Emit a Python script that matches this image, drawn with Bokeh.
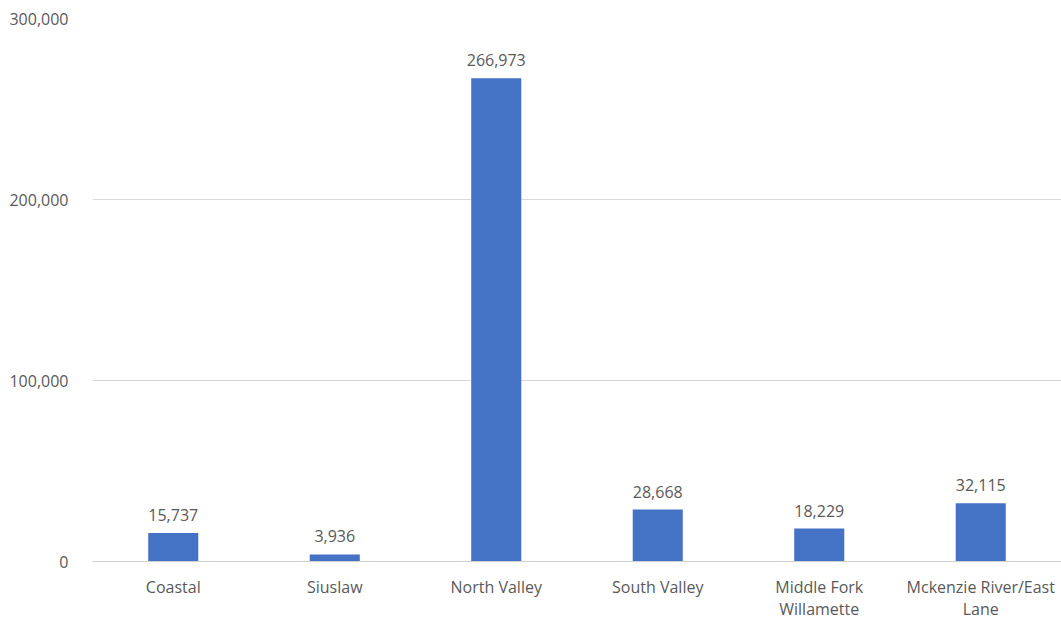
from bokeh.plotting import figure
from bokeh.models import (ColumnDataSource, NumeralTickFormatter, FixedTicker, Range1d, LabelSet,
                          LinearAxis)
from bokeh.core.properties import value
from bokeh.embed import file_html
from bokeh.resources import INLINE

categories = ["Coastal", "Siuslaw", "North Valley", "South Valley", "Middle Fork Willamette", "Mckenzie River/East Lane"]
label_line1 = ["Coastal", "Siuslaw", "North Valley", "South Valley", "Middle Fork", "Mckenzie River/East"]
label_line2 = ["", "", "", "", "Willamette", "Lane"]
values = [15737, 3936, 266973, 28668, 18229, 32115]
y_ticks = [0, 100000, 200000, 300000]

FONT = "Open Sans"
GRAY = "#595959"
FS = "16px"

xpos = list(range(len(categories)))
src = ColumnDataSource(dict(x=xpos, cat=categories, val=values, lab=[f"{v:,}" for v in values]))

p = figure(x_range=Range1d(-0.5, len(categories) - 0.5), y_range=Range1d(0, 300000),
           frame_width=969, frame_height=543,
           output_backend="svg", toolbar_location=None,
           min_border_left=92, min_border_right=0, min_border_top=18, min_border_bottom=0)
p.outline_line_color = None

p.vbar(x="x", top="val", width=0.31, source=src, color="#4472C4", line_color=None)

vals = LabelSet(x="x", y="val", text="lab", source=src, text_align="center", text_baseline="bottom",
                y_offset=12, text_font=value(FONT), text_font_size=value(FS), text_color=GRAY)
p.add_layout(vals)

p.xgrid.grid_line_color = None
p.ygrid.grid_line_color = "#d9d9d9"
p.ygrid.grid_line_width = 1

p.yaxis.ticker = FixedTicker(ticks=y_ticks)
p.yaxis.formatter = NumeralTickFormatter(format="0,0")
p.yaxis.axis_line_color = None
p.yaxis.major_tick_line_color = None
p.yaxis.minor_tick_line_color = None
p.yaxis.major_label_standoff = 18
p.yaxis.major_label_text_font = FONT
p.yaxis.major_label_text_font_size = FS
p.yaxis.major_label_text_color = GRAY

xa = p.xaxis[0]
xa.ticker = FixedTicker(ticks=xpos)
xa.axis_line_color = "#d0d0d0"
xa.major_tick_line_color = None
xa.minor_tick_line_color = None
xa.major_tick_out = 0
xa.major_label_standoff = 14
xa.major_label_text_font = FONT
xa.major_label_text_font_size = FS
xa.major_label_text_color = GRAY
xa.major_label_overrides = {i: t for i, t in zip(xpos, label_line1)}

xa2 = LinearAxis(ticker=FixedTicker(ticks=xpos))
xa2.axis_line_color = None
xa2.major_tick_line_color = None
xa2.minor_tick_line_color = None
xa2.major_tick_out = 0
xa2.major_label_standoff = -3
xa2.major_label_text_font = FONT
xa2.major_label_text_font_size = FS
xa2.major_label_text_color = GRAY
xa2.major_label_overrides = {i: (t if t else " ") for i, t in zip(xpos, label_line2)}
p.add_layout(xa2, "below")

open("out.html", "w").write(file_html(p, INLINE))
